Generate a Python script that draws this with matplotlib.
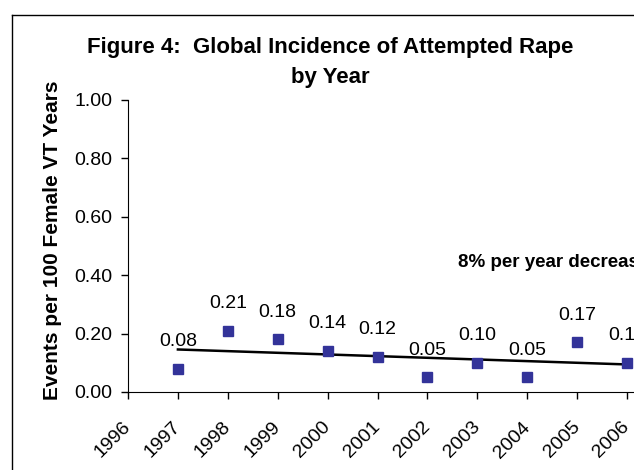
import numpy as np
import matplotlib.pyplot as plt
import matplotlib.transforms as mtransforms
from matplotlib.lines import Line2D

plt.rcParams['font.family'] = ['Liberation Sans', 'DejaVu Sans']

# attempted rape incidence per 100 female VT years
years = [1997, 1998, 1999, 2000, 2001, 2002, 2003, 2004, 2005, 2006]
rate = [0.08, 0.21, 0.18, 0.14, 0.12, 0.05, 0.10, 0.05, 0.17, 0.10]
xticks = list(range(1996, 2007))
yticks = [0.0, 0.2, 0.4, 0.6, 0.8, 1.0]

fig = plt.figure(figsize=(6.34, 4.70), dpi=100)
ax = fig.add_axes([128/634, 78/470, 1 - 128/634, 292/470])

ax.plot(years, rate, 's', color='#333399', markersize=6.5, clip_on=False, zorder=3)
for x, y in zip(years, rate):
    ax.annotate('%.2f' % y, (x, y), xytext=(0, 13.5), textcoords='offset points',
                ha='center', va='bottom', fontsize=14, annotation_clip=False)

# linear trend
p = np.polyfit(years, rate, 1)
xs = np.array([years[0], years[-1]])
ax.plot(xs, np.polyval(p, xs), color='black', lw=1.8, zorder=2)
ax.text(2002.62, 0.415, '8% per year decrease', fontsize=13.5, fontweight='bold',
        ha='left', va='bottom', clip_on=False)

ax.set_xlim(1996, 1996 + (634 - 128) / 49.9)
ax.set_ylim(0, 1)
ax.set_xticks(xticks)
ax.set_xticklabels([str(t) for t in xticks], rotation=45, ha='right',
                   rotation_mode='anchor')
ax.set_yticks(yticks)
ax.set_yticklabels(['%.2f' % t for t in yticks])
ax.tick_params(labelsize=14, length=5, width=1, direction='out', pad=4)
ax.tick_params(axis='y', pad=6)
# push the slanted year labels down and left of their ticks
shift = mtransforms.ScaledTranslation(-6/100, -14/100, fig.dpi_scale_trans)
for lab in ax.get_xticklabels():
    lab.set_transform(lab.get_transform() + shift)
for s in ['top', 'right']:
    ax.spines[s].set_visible(False)
ax.set_ylabel('Events per 100 Female VT Years', fontsize=15, fontweight='bold')
ax.yaxis.set_label_coords(-0.13, 0.52)

fig.text(330/634, 1 - 48/470, 'Figure 4:  Global Incidence of Attempted Rape',
         ha='center', va='center', fontsize=16, fontweight='bold')
fig.text(330/634, 1 - 78/470, 'by Year', ha='center', va='center',
         fontsize=16, fontweight='bold')

# frame around the chart area
fig.add_artist(Line2D([12/634, 12/634], [0, 1 - 15/470], color='black', lw=1))
fig.add_artist(Line2D([12/634, 1], [1 - 15/470, 1 - 15/470], color='black', lw=1))

fig.savefig('out.png', dpi=100)
